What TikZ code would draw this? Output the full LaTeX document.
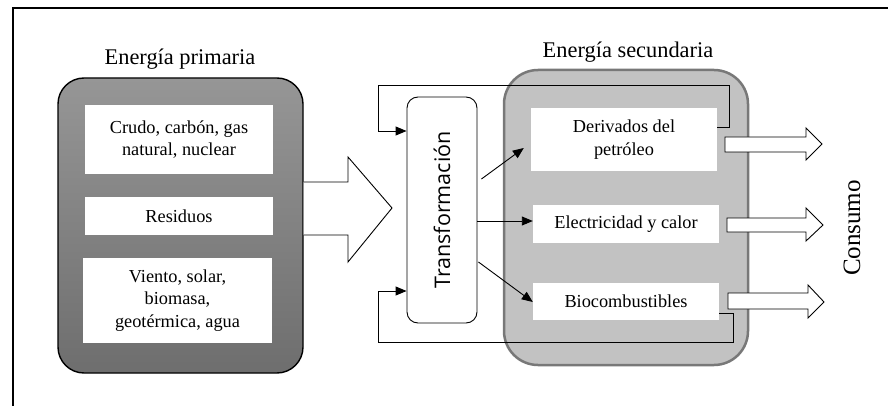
\documentclass[tikz,border=0pt]{standalone}
\usepackage{fontspec}
\setmainfont{Liberation Serif}
\newfontfamily\osans{Open Sans}
\usetikzlibrary{arrows.meta}
\definecolor{secfill}{RGB}{194,194,194}
\definecolor{secdraw}{RGB}{120,120,120}
\definecolor{primlight}{RGB}{150,150,150}
\definecolor{primdark}{RGB}{110,110,110}
\tikzset{
  inbox/.style={fill=white, draw=none, align=center, inner sep=0pt,
    font=\fontsize{18.3}{22.5}\selectfont},
  conn/.style={line width=0.9pt, -{Triangle[length=11pt,width=9pt]}},
  hollow/.style={draw, line width=0.9pt, fill=white, line join=miter},
  titletext/.style={font=\fontsize{22.4}{26}\selectfont, anchor=base, inner sep=0pt},
}
\begin{document}
\begin{tikzpicture}[x=1pt,y=-1pt]
\useasboundingbox (0,0) rectangle (888,406);
\fill[white] (0,0) rectangle (888,406);
% frame
\draw[line width=1.8pt] (13,430) -- (13,8) -- (900,8);

% primary energy
\node[titletext] (ptitle) at (180,65) {Energía primaria};
\node[draw, line width=1.4pt, rounded corners=26pt, top color=primlight, bottom color=primdark,
      minimum width=245pt, minimum height=295pt] (prim) at (180.5,225.5) {};
\node[inbox, minimum width=188pt, minimum height=69pt] (p1) at (179,139.5) {Crudo, carbón, gas\\natural, nuclear};
\node[inbox, minimum width=188pt, minimum height=38pt] (p2) at (179,216) {Residuos};
\node[inbox, minimum width=189pt, minimum height=85pt] (p3) at (177.5,300.5) {Viento, solar,\\biomasa,\\geotérmica, agua};

% big arrow
\draw[hollow] (prim.east |- 0,182) -- (348,182) -- (348,157) -- (392,208) -- (348,262) -- (348,235) -- (prim.east |- 0,235);

% secondary energy
\node[titletext] (stitle) at (628,58) {Energía secundaria};
\node[draw=secdraw, fill=secfill, line width=2.5pt, rounded corners=34pt,
      minimum width=244pt, minimum height=295pt] (sec) at (626,217.5) {};
\node[inbox, minimum width=186pt, minimum height=63pt] (der) at (624,139.5) {Derivados del\\petróleo};
\node[inbox, minimum width=186pt, minimum height=38pt] (elec) at (626,224) {Electricidad y calor};
\node[inbox, minimum width=186pt, minimum height=37pt] (bio) at (626,301.5) {Biocombustibles};

% transformation
\node[draw, line width=0.9pt, rounded corners=11pt, fill=white,
      minimum width=70pt, minimum height=226pt] (trans) at (442,210) {};
\node[rotate=90, anchor=base, inner sep=0pt, font=\osans\fontsize{21.5}{24}\selectfont] (ttext) at (450,210) {Transformación};

% transformation outputs
\draw[conn] ([xshift=4pt]trans.east |- 0,179) -- ([xshift=-7pt]der.west |- 0,148);
\draw[conn] (trans.east |- 0,221) -- (elec.west |- 0,221);
\draw[conn] ([xshift=1pt]trans.east |- 0,262) -- (bio.west |- 0,302);

% feedback loops
\draw[conn] (der.east |- 0,127) -- (729,127) -- (729,85) -- (378,85) -- (378,131) -- (trans.west |- 0,131);
\draw[conn] (bio.east |- 0,313) -- (733,313) -- (733,342) -- (378,342) -- (378,291) -- (trans.west |- 0,291);

% consumption arrows
\draw[hollow] (725,137) -- (806,137) -- (806,128) -- (822,144) -- (806,160) -- (806,152) -- (725,152) -- cycle;
\draw[hollow] (727,218) -- (806,218) -- (806,208) -- (823,225) -- (806,241) -- (806,232) -- (727,232) -- cycle;
\draw[hollow] (728,293) -- (808,293) -- (808,285) -- (824,302) -- (808,318) -- (808,309) -- (728,309) -- cycle;

\node[rotate=90, anchor=base, inner sep=0pt, font=\fontsize{25}{28}\selectfont] (cons) at (860,228) {Consumo};
\end{tikzpicture}
\end{document}
